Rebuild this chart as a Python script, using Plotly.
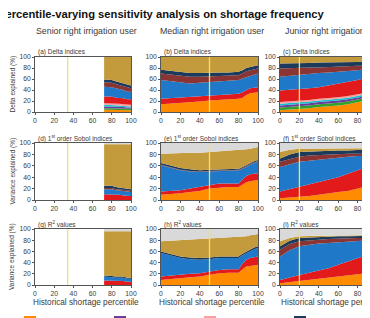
import plotly.graph_objects as go
from plotly.subplots import make_subplots

# the page body has an 8 px margin, so the figure is drawn 8 px in from the window corner
OFF = 8
W, H = 370 - OFF, 318 - OFF

# ---------------- data ----------------
pct_senior = [72, 76, 80, 84, 88, 92, 96, 100]
pct = [0, 10, 20, 30, 40, 50, 60, 70, 80, 84, 88, 92, 96, 100]
xticks = [0, 20, 40, 60, 80, 100]
yticks = [0, 20, 40, 60, 80, 100]

factor_keys = ["irr", "wet", "mun", "snow", "shos", "dry", "var", "ddp", "env", "inter", "unexp"]
factor_names = ["Irrigation demand", "Mean wet flow", "Municipal demand", "Snowmelt shift",
                "Shoshone active", "Mean dry flow", "Dry state variance", "Dry-dry probability",
                "Env. flow senior right", "Interactions", "Unexplained"]
factor_colors = ["#ff8c00", "#33a02c", "#6a3d9a", "#17becf", "#f7a1a0", "#e31a1c",
                 "#1f78c8", "#8b3434", "#1b3a5c", "#c49b3c", "#d9d9d9"]
legend_order = ["irr", "mun", "shos", "env", "wet", "snow", "dry", "var", "ddp", "inter", "unexp"]

# (a) senior, delta
a_irr = [4, 4, 4, 3, 3, 3, 3, 3]
a_wet = [3, 3, 3, 3, 3, 3, 3, 3]
a_mun = [3, 3, 3, 3, 3, 3, 2, 2]
a_snow = [3, 3, 3, 3, 3, 2, 2, 2]
a_shos = [3, 3, 3, 3, 3, 3, 3, 3]
a_dry = [12, 12, 12, 11, 11, 11, 10, 10]
a_var = [18, 18, 17, 17, 16, 15, 14, 14]
a_ddp = [8, 8, 8, 8, 7, 7, 7, 6]
a_env = [5, 5, 5, 5, 5, 5, 5, 5]
a_inter = [41, 41, 42, 44, 46, 48, 51, 52]

# (b) median, delta
b_irr = [14, 15, 16, 18, 19, 21, 22, 23, 24, 26, 31, 34, 35, 36]
b_dry = [10, 10, 10, 9, 9, 9, 9, 9, 9, 10, 9, 9, 9, 9]
b_var = [34, 31, 28, 25, 25, 24, 24, 24, 25, 25, 23, 22, 24, 25]
b_ddp = [12, 12, 12, 12, 11, 11, 10, 10, 9, 9, 11, 11, 10, 9]
b_env = [7, 7, 7, 7, 7, 7, 7, 6, 6, 6, 6, 6, 6, 6]
b_inter = [23, 25, 27, 29, 29, 28, 28, 28, 27, 24, 20, 18, 16, 15]

# (c) junior, delta
c_irr = [3, 4, 5, 7, 9, 10, 12, 14, 18, 19, 21, 23, 24, 25]
c_wet = [5, 5, 5, 5, 5, 5, 5, 5, 5, 5, 5, 5, 5, 5]
c_mun = [4, 4, 4, 4, 4, 4, 4, 4, 3, 3, 3, 3, 3, 3]
c_snow = [3, 3, 3, 3, 3, 3, 3, 3, 3, 3, 3, 3, 3, 3]
c_shos = [3, 3, 3, 3, 3, 3, 3, 3, 3, 3, 3, 3, 3, 3]
c_dry = [21, 21, 21, 21, 21, 23, 25, 26, 26, 27, 28, 28, 28, 28]
c_var = [25, 26, 27, 27, 26, 24, 21, 19, 18, 17, 16, 15, 14, 14]
c_ddp = [15, 14, 12, 11, 10, 10, 10, 9, 8, 7, 6, 5, 6, 5]
c_env = [9, 8, 9, 8, 9, 8, 7, 8, 7, 8, 7, 7, 7, 7]
c_inter = [12, 12, 11, 11, 10, 10, 10, 9, 9, 8, 8, 8, 7, 7]

# (d) senior, 1st order Sobol
d_dry = [10, 10, 10, 9, 9, 8, 8, 7]
d_var = [9, 9, 9, 8, 8, 8, 7, 7]
d_ddp = [2, 2, 2, 2, 2, 2, 2, 2]
d_env = [4, 4, 4, 4, 3, 3, 3, 3]
d_inter = [73, 73, 73, 75, 76, 77, 78, 79]
d_unexp = [2, 2, 2, 2, 2, 2, 2, 2]

# (e) median, 1st order Sobol
e_irr = [9, 10, 12, 14, 16, 20, 22, 23, 23, 27, 31, 33, 34, 35]
e_dry = [6, 6, 5, 6, 7, 6, 7, 6, 6, 9, 11, 12, 12, 12]
e_var = [46, 40, 35, 30, 26, 24, 22, 23, 23, 19, 17, 17, 19, 20]
e_ddp = [1, 1, 1, 1, 1, 1, 1, 1, 1, 1, 1, 1, 1, 1]
e_env = [3, 3, 3, 3, 2, 2, 2, 2, 2, 2, 2, 2, 2, 2]
e_inter = [16, 22, 26, 29, 31, 31, 31, 31, 32, 30, 27, 25, 24, 23]
e_unexp = [19, 18, 18, 17, 17, 16, 15, 14, 13, 12, 11, 10, 8, 7]

# (f) junior, 1st order Sobol
f_irr = [3, 4, 5, 7, 9, 12, 14, 16, 20, 22, 24, 26, 27, 28]
f_dry = [12, 15, 18, 20, 22, 23, 26, 30, 32, 32, 33, 32, 33, 33]
f_var = [43, 44, 44, 42, 40, 38, 35, 30, 25, 23, 21, 20, 19, 18]
f_ddp = [9, 9, 9, 9, 8, 7, 5, 5, 4, 4, 3, 4, 3, 3]
f_env = [6, 8, 8, 7, 7, 7, 7, 6, 7, 7, 7, 6, 6, 7]
f_inter = [11, 8, 6, 5, 4, 4, 4, 4, 3, 3, 3, 3, 4, 3]
f_unexp = [16, 12, 10, 10, 10, 9, 9, 9, 9, 9, 9, 9, 8, 8]

# (g) senior, R2
g_dry = [8, 8, 8, 7, 7, 7, 6, 6]
g_var = [7, 7, 6, 6, 6, 6, 5, 5]
g_env = [2, 2, 2, 2, 2, 2, 2, 2]
g_inter = [79, 79, 80, 81, 81, 81, 83, 83]
g_unexp = [4, 4, 4, 4, 4, 4, 4, 4]

# (h) median, R2
h_irr = [9, 11, 12, 14, 15, 18, 21, 22, 22, 28, 33, 34, 35, 36]
h_dry = [6, 6, 6, 6, 6, 6, 6, 6, 6, 10, 12, 14, 15, 15]
h_var = [42, 35, 30, 26, 24, 22, 21, 20, 20, 15, 12, 13, 14, 15]
h_env = [3, 3, 3, 3, 3, 3, 3, 3, 3, 3, 3, 3, 3, 3]
h_inter = [18, 24, 29, 32, 33, 33, 32, 33, 34, 30, 27, 25, 23, 22]
h_unexp = [22, 21, 20, 19, 19, 18, 17, 16, 15, 14, 13, 11, 10, 9]

# (i) junior, R2
i_irr = [3, 5, 6, 8, 10, 12, 14, 16, 18, 19, 20, 21, 22, 23]
i_dry = [6, 9, 12, 14, 16, 18, 22, 26, 30, 32, 34, 35, 35, 35]
i_var = [42, 48, 51, 50, 48, 45, 40, 35, 30, 28, 26, 24, 24, 23]
i_ddp = [12, 11, 9, 8, 7, 7, 7, 6, 6, 5, 4, 5, 4, 4]
i_env = [6, 6, 6, 5, 5, 4, 4, 4, 3, 3, 3, 3, 3, 3]
i_inter = [9, 5, 3, 3, 2, 2, 1, 1, 1, 1, 2, 1, 1, 1]
i_unexp = [22, 16, 13, 12, 12, 12, 12, 12, 12, 12, 11, 11, 11, 11]

benchmark_pct = [34, 50, 20]   # yellow reference line per user column

col_titles = ["Senior right irrigation user", "Median right irrigation user", "Junior right irrigation user"]
panel_titles = ["(a) Delta indices", "(b) Delta indices", "(c) Delta indices",
                "(d) 1<sup>st</sup> order Sobol indices", "(e) 1<sup>st</sup> order Sobol indices",
                "(f) 1<sup>st</sup> order Sobol indices",
                "(g) R<sup>2</sup> values", "(h) R<sup>2</sup> values", "(i) R<sup>2</sup> values"]
row_ylabels = ["Delta explained (%)", "Variance explained (%)", "Variance explained (%)"]
xlabel = "Historical shortage percentile"
main_title = "Percentile-varying sensitivity analysis on shortage frequency"

g = globals()
panels = []
for letter in "abcdefghi":
    series = {k: g[f"{letter}_{k}"] for k in factor_keys if f"{letter}_{k}" in g}
    panels.append(series)


def px(x):
    return (x - OFF) / W


def py(y):
    return 1 - (y - OFF) / H


# ---------------- figure ----------------
fig = make_subplots(rows=3, cols=3)

colx = [(35, 131), (161, 258), (280, 370)]
xranges = [[0, 100], [0, 100], [0, 92.8]]
rowy = [(57, 112), (143, 200), (229, 285)]

FONT = "Liberation Sans, Arial, sans-serif"
TXT = "#3a3a3a"

for idx, series in enumerate(panels):
    r, c = idx // 3 + 1, idx % 3 + 1
    xs = pct_senior if c == 1 else pct
    for k in factor_keys:
        if k not in series:
            continue
        col = factor_colors[factor_keys.index(k)]
        fig.add_trace(go.Scatter(
            x=xs, y=series[k], stackgroup=f"p{idx}", mode="lines",
            line=dict(width=0, color=col), fillcolor=col,
            name=factor_names[factor_keys.index(k)], showlegend=False,
            hoverinfo="skip"), row=r, col=c)
    fig.add_vline(x=benchmark_pct[c - 1], row=r, col=c,
                  line=dict(color="#f2e35a", width=1.3))

# legend-only entries
for k in legend_order:
    j = factor_keys.index(k)
    fig.add_trace(go.Bar(x=[None], y=[None], marker_color=factor_colors[j],
                         name=factor_names[j], showlegend=True), row=1, col=1)

for idx in range(9):
    r, c = idx // 3, idx % 3
    ax = "" if idx == 0 else str(idx + 1)
    x0, x1 = colx[c]
    y0, y1 = rowy[r]
    fig.layout[f"xaxis{ax}"].update(
        domain=[px(x0), min(1.0, px(x1))], range=xranges[c], tickvals=xticks,
        showline=True, mirror=True, linecolor="#555", linewidth=0.7,
        ticks="outside", ticklen=2, tickwidth=0.6, tickcolor="#555",
        tickfont=dict(size=6.8, color=TXT, family=FONT),
        showgrid=False, zeroline=False, fixedrange=True)
    fig.layout[f"yaxis{ax}"].update(
        domain=[py(y1), py(y0)], range=[0, 100], tickvals=yticks,
        showline=True, mirror=(c != 2), linecolor="#555", linewidth=0.7,
        ticks="outside", ticklen=2, tickwidth=0.6, tickcolor="#555",
        tickfont=dict(size=6.8, color=TXT, family=FONT),
        showgrid=False, zeroline=False, fixedrange=True)

ann = []
ann.append(dict(text=f"<b>{main_title}</b>", x=px(-4), y=py(14), xref="paper", yref="paper",
                xanchor="left", yanchor="middle", showarrow=False,
                font=dict(size=11.2, color="#111", family=FONT)))
col_centers = [86, 212, 334]
for c in range(3):
    ann.append(dict(text=col_titles[c], x=px(col_centers[c]), y=py(31), xref="paper", yref="paper",
                    xanchor="center", yanchor="middle", showarrow=False,
                    font=dict(size=8.8, color=TXT, family=FONT)))
    ann.append(dict(text=xlabel, x=px(col_centers[c]), y=py(302.5), xref="paper", yref="paper",
                    xanchor="center", yanchor="middle", showarrow=False,
                    font=dict(size=8.2, color=TXT, family=FONT)))
for idx in range(9):
    r, c = idx // 3, idx % 3
    ann.append(dict(text=panel_titles[idx], x=px(colx[c][0] + 1), y=py(rowy[r][0] - 5),
                    xref="paper", yref="paper", xanchor="left", yanchor="middle", showarrow=False,
                    font=dict(size=6.5, color=TXT, family=FONT)))
for r in range(3):
    ann.append(dict(text=row_ylabels[r], x=px(12), y=py((rowy[r][0] + rowy[r][1]) / 2),
                    xref="paper", yref="paper", xanchor="center", yanchor="middle", showarrow=False,
                    textangle=-90, font=dict(size=6.5, color=TXT, family=FONT)))

fig.update_layout(
    template="none",
    width=W, height=H, margin=dict(l=0, r=0, t=0, b=0, autoexpand=False),
    paper_bgcolor="white", plot_bgcolor="white", annotations=ann,
    font=dict(family=FONT, color=TXT),
    showlegend=True,
    legend=dict(orientation="h", x=px(10), y=py(307.5), xanchor="left", yanchor="top",
                traceorder="normal",
                font=dict(size=7.5, color=TXT, family=FONT), entrywidth=45, entrywidthmode="pixels",
                tracegroupgap=0, bgcolor="rgba(0,0,0,0)", borderwidth=0),
)

fig.write_html("out.html")
